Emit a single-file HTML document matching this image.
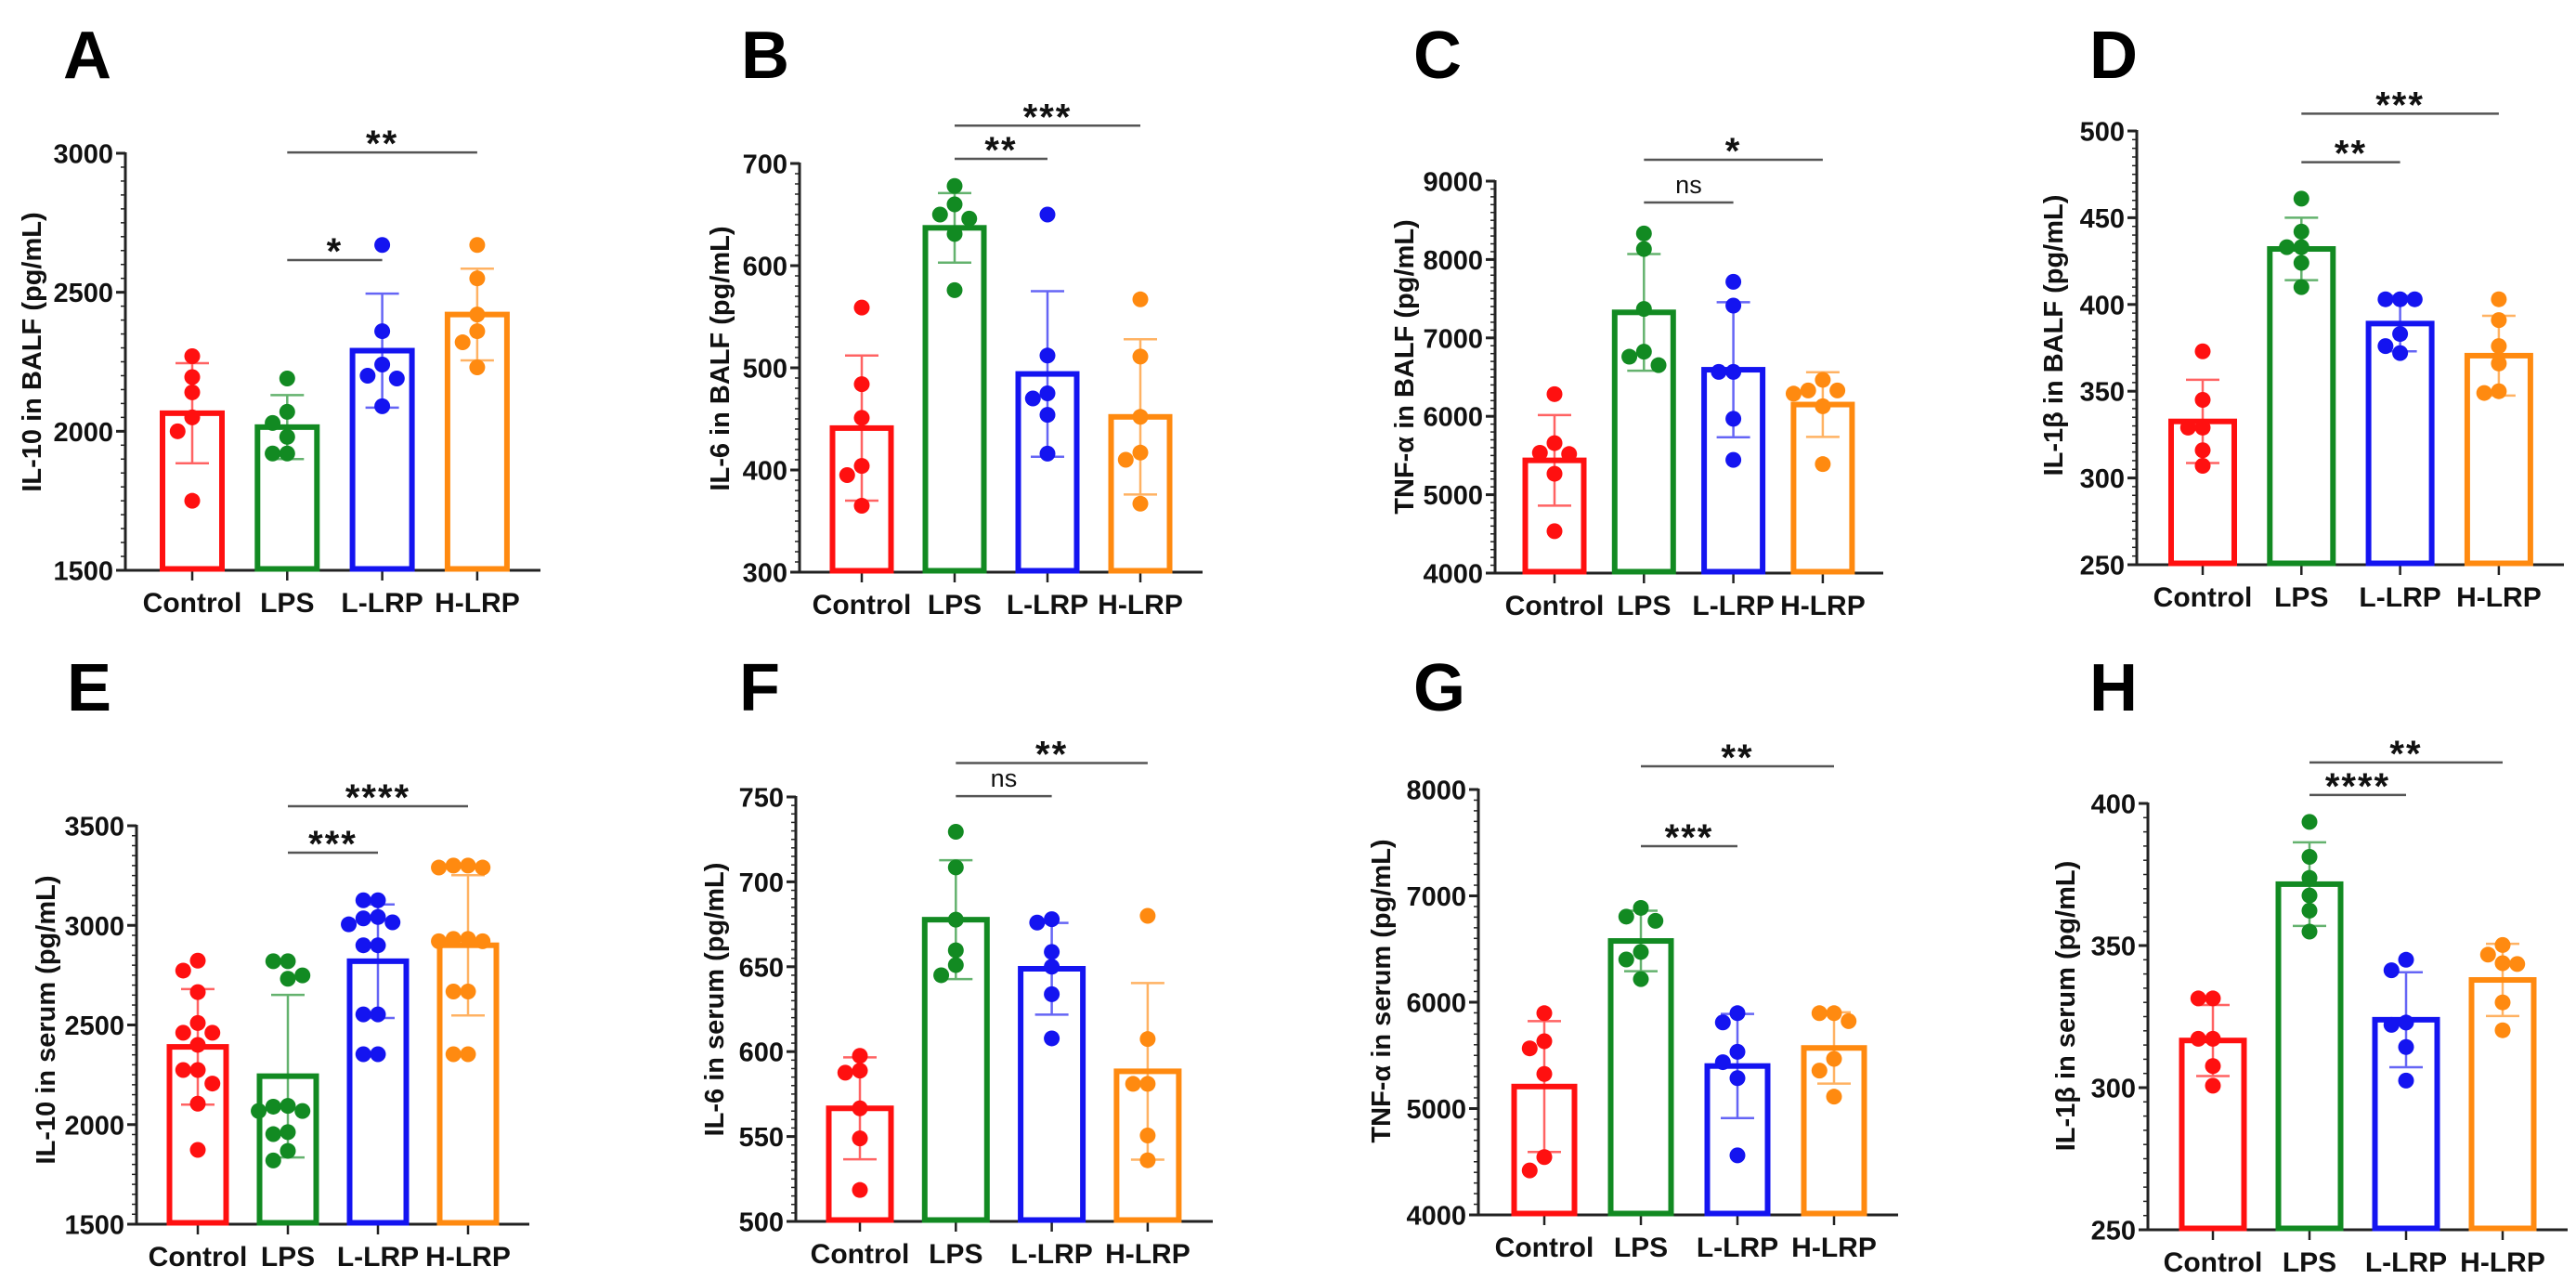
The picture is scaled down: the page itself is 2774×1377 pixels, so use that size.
<!DOCTYPE html>
<html><head><meta charset="utf-8"><style>
html,body{margin:0;padding:0;background:#fff;}
svg{display:block;font-family:"Liberation Sans",Arial,sans-serif;}
</style></head><body>
<svg id="fig" width="2774" height="1377" viewBox="0 0 2774 1377" xmlns="http://www.w3.org/2000/svg"></svg>
<script>
const categories=["Control","LPS","L-LRP","H-LRP"];
const colors=["#ff1010","#128a22","#1414f0","#ff8a10"];

const A_means=[2065,2015,2290,2420];
const A_sds=[180,115,205,165];
const A_points=[[2270,2195,2140,2050,2000,1750],[2190,2070,2030,1980,1920,1920],[2670,2360,2240,2190,2200,2090],[2670,2550,2420,2360,2320,2230]];
const B_means=[441,637,494,452];
const B_sds=[71,34,81,76];
const B_points=[[559,484,451,404,395,365],[678,660,650,646,631,576],[650,512,475,470,454,416],[567,511,452,417,410,367]];
const C_means=[5438,7326,6594,6150];
const C_sds=[578,744,861,412];
const C_points=[[6283,5658,5535,5519,5267,4535],[8332,8134,7369,6824,6760,6652],[7716,7412,6567,6567,5968,5444],[6465,6330,6289,6330,6128,5390]];
const D_means=[332.6,432,389,370.5];
const D_sds=[24,18,16,23];
const D_points=[[373,345,329,329,316,307],[461,442,433,433,424,410],[403,403,403,383,376,372],[403,391,376,366,350,349]];
const E_means=[2390,2243,2820,2900];
const E_sds=[290,408,285,352];
const E_points=[[2823,2773,2665,2510,2461,2461,2400,2274,2274,2206,2105,1873],[2820,2820,2749,2732,2094,2090,2068,2068,1962,1952,1868,1820],[3126,3126,3042,3035,3015,3005,2900,2900,2553,2553,2353,2353],[3300,3290,3290,3300,2932,2932,2920,2920,2668,2668,2353,2353]];
const F_means=[566.6,677.7,648.8,588.4];
const F_sds=[30,35,27,52];
const F_points=[[597.5,588.8,587.6,566.6,548.9,518.5],[729.5,708.5,677.7,659.7,651,645],[678,676,658.7,650,633.8,607.8],[680,607.4,581,581,550.6,536]];
const G_means=[5207,6576,5400,5570];
const G_sds=[615,284,490,335];
const G_points=[[5897,5633,5566,5325,4544,4418],[6887,6805,6765,6473,6402,6217],[5897,5810,5534,5436,5286,4560],[5897,5897,5822,5467,5357,5112]];
const H_means=[316.6,371.6,323.9,337.9];
const H_sds=[12.5,14.7,16.7,12.7];
const H_points=[[331.4,331.4,317.2,317.2,307.6,300.7],[393.5,381.2,373.8,367.6,362.3,354.9],[345,341.3,322.9,322.1,314.3,302.5],[350.2,346.8,343.8,343.5,330,320.2]];

const A_sig=[{to:3,val:3003,label:"**"},{to:2,val:2616,label:"*"}];
const B_sig=[{to:3,val:737,label:"***"},{to:2,val:704.5,label:"**"}];
const C_sig=[{to:3,val:9272,label:"*"},{to:2,val:8727,label:"ns"}];
const D_sig=[{to:3,val:510,label:"***"},{to:2,val:482,label:"**"}];
const E_sig=[{to:3,val:3598,label:"****"},{to:2,val:3365,label:"***"}];
const F_sig=[{to:3,val:770,label:"**"},{to:2,val:750.5,label:"ns"}];
const G_sig=[{to:3,val:8218,label:"**"},{to:2,val:7467,label:"***"}];
const H_sig=[{to:3,val:414.4,label:"**"},{to:2,val:403,label:"****"}];

const panels=[
 {L:"A",title:"IL-10 in BALF (pg/mL)",min:1500,max:3000,step:500,means:A_means,sds:A_sds,pts:A_points,sig:A_sig,
  ax:135,yt:165,yb:614,xe:582,c0:207,dx:102.3,bw:64,lx:68,ly:84,tx:35,ty:379},
 {L:"B",title:"IL-6 in BALF (pg/mL)",min:300,max:700,step:100,means:B_means,sds:B_sds,pts:B_points,sig:B_sig,
  ax:861,yt:176,yb:616,xe:1295,c0:928,dx:100,bw:63,lx:798,ly:84,tx:776,ty:386},
 {L:"C",title:"TNF-α in BALF (pg/mL)",min:4000,max:9000,step:1000,means:C_means,sds:C_sds,pts:C_points,sig:C_sig,
  ax:1610,yt:195,yb:617,xe:2028,c0:1674,dx:96.3,bw:63,lx:1522,ly:84,tx:1513,ty:395},
 {L:"D",title:"IL-1β in BALF (pg/mL)",min:250,max:500,step:50,means:D_means,sds:D_sds,pts:D_points,sig:D_sig,
  ax:2301,yt:141,yb:608,xe:2761,c0:2372,dx:106.3,bw:68,lx:2250,ly:84,tx:2212,ty:361},
 {L:"E",title:"IL-10 in serum (pg/mL)",min:1500,max:3500,step:500,means:E_means,sds:E_sds,pts:E_points,sig:E_sig,
  ax:147,yt:889,yb:1318,xe:570,c0:213,dx:97,bw:61,lx:72,ly:765,tx:50,ty:1098},
 {L:"F",title:"IL-6 in serum (pg/mL)",min:500,max:750,step:50,means:F_means,sds:F_sds,pts:F_points,sig:F_sig,
  ax:857,yt:858,yb:1315,xe:1306,c0:926,dx:103.3,bw:67,lx:796,ly:765,tx:770,ty:1076},
 {L:"G",title:"TNF-α in serum (pg/mL)",min:4000,max:8000,step:1000,means:G_means,sds:G_sds,pts:G_points,sig:G_sig,
  ax:1592,yt:850,yb:1308,xe:2044,c0:1663,dx:104,bw:65,lx:1522,ly:765,tx:1488,ty:1067},
 {L:"H",title:"IL-1β in serum (pg/mL)",min:250,max:400,step:50,means:H_means,sds:H_sds,pts:H_points,sig:H_sig,
  ax:2313,yt:865,yb:1324,xe:2765,c0:2383,dx:104,bw:67,lx:2250,ly:765,tx:2225,ty:1083}
];

const NS="http://www.w3.org/2000/svg";
const svg=document.getElementById("fig");
function mk(tag,attrs,parent){const e=document.createElementNS(NS,tag);for(const k in attrs)e.setAttribute(k,attrs[k]);(parent||svg).appendChild(e);return e;}

panels.forEach(p=>{
  const g=mk("g",{});
  
  
  const y=v=>p.yb-(v-p.min)/(p.max-p.min)*(p.yb-p.yt);
  const x=i=>p.c0+i*p.dx;

  const lt=mk("text",{x:p.lx,y:p.ly,"font-size":72,"font-weight":"bold",fill:"#000"},g);lt.textContent=p.L;
  
  

  const tt=mk("text",{x:p.tx,y:p.ty,"font-size":29,"font-weight":"bold","text-anchor":"middle","dominant-baseline":"central",transform:`rotate(-90 ${p.tx} ${p.ty})`,fill:"#111"},g);
  tt.textContent=p.title;
  
  

  const minor=p.step/10;
  for(let v=p.min;v<=p.max+1e-9;v+=minor){
    const isMaj=Math.abs(((v-p.min)/p.step)-Math.round((v-p.min)/p.step))<1e-6;
    const t=mk("line",{x1:p.ax-(isMaj?10:5),x2:p.ax,y1:y(v),y2:y(v),stroke:"#222","stroke-width":isMaj?3:1.5},g);
    
    
    if(isMaj){
      const tl=mk("text",{x:p.ax-13,y:y(v)+10.5,"font-size":29,"font-weight":"bold","text-anchor":"end",fill:"#111"},g);
      tl.textContent=String(Math.round(v));
      
      
    }
  }
  const ya=mk("line",{x1:p.ax,x2:p.ax,y1:p.yt-1,y2:p.yb+1.5,stroke:"#222","stroke-width":3},g);
  
  
  const xa=mk("line",{x1:p.ax-10,x2:p.xe,y1:p.yb,y2:p.yb,stroke:"#222","stroke-width":3},g);
  
  

  categories.forEach((c,i)=>{
    const col=colors[i];
    const cx=x(i);
    const xt=mk("line",{x1:cx,x2:cx,y1:p.yb,y2:p.yb+11,stroke:"#222","stroke-width":2.5},g);
    
    
    const cl=mk("text",{x:cx,y:p.yb+45,"font-size":30,"font-weight":"bold","text-anchor":"middle",fill:"#111"},g);
    cl.textContent=c;
    
    

    const top=y(p.means[i]);
    const bar=mk("rect",{x:cx-p.bw/2,y:top,width:p.bw,height:p.yb-top-1.5,fill:"none",stroke:col,"stroke-width":6},g);
    
    

    const r=8.5;
    const placed=[];
    const vals=p.pts[i].slice().sort((a,b)=>b-a);
    vals.forEach(v=>{
      const py=y(v);
      const cands=[0,-1,1,-2,2,-3,3];
      let px=cx;
      for(const k of cands){
        const tx=cx+k*r*1.85;
        if(placed.every(q=>Math.hypot(q[0]-tx,q[1]-py)>=2*r*0.92)){px=tx;break;}
      }
      placed.push([px,py]);
      const d=mk("circle",{cx:px,cy:py,r:r,fill:col},g);
      
      
    });

    const eg=mk("g",{stroke:col,"stroke-width":2.5,opacity:0.65},g);
    
    
    const hi=y(p.means[i]+p.sds[i]),lo=y(p.means[i]-p.sds[i]);
    mk("line",{x1:cx,x2:cx,y1:hi,y2:lo},eg);
    mk("line",{x1:cx-18,x2:cx+18,y1:hi,y2:hi},eg);
    mk("line",{x1:cx-18,x2:cx+18,y1:lo,y2:lo},eg);
  });

  p.sig.forEach(s=>{
    const ly=y(s.val);
    const x1=x(1),x2=x(s.to);
    const sl=mk("line",{x1:x1,x2:x2,y1:ly,y2:ly,stroke:"#555","stroke-width":2.5},g);
    
    
    const isNs=s.label==="ns";
    const st=mk("text",{x:(x1+x2)/2,y:isNs?ly-10:ly+4,"font-size":isNs?27:40,"font-weight":isNs?"normal":"bold","text-anchor":"middle",fill:"#111","letter-spacing":isNs?0:2},g);
    st.textContent=s.label;
    
    
  });
});
</script>
</body></html>
